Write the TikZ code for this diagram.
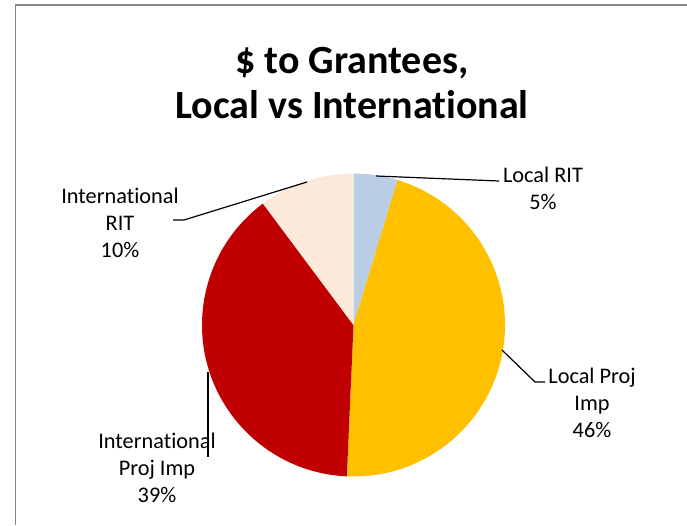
\documentclass[tikz,border=0pt]{standalone}
\usepackage{fontspec}
\setmainfont{Carlito}[Ligatures=NoCommon]
\usetikzlibrary{calc}
\definecolor{ritblue}{RGB}{185,205,229}
\definecolor{projgold}{RGB}{255,192,0}
\definecolor{projred}{RGB}{192,0,0}
\definecolor{ritpeach}{RGB}{253,233,217}
\definecolor{framegray}{RGB}{134,134,134}
\tikzset{
  lbl/.style={align=center, font=\fontsize{22.3}{27}\selectfont, inner sep=0pt},
  ttl/.style={anchor=base, font=\fontsize{40}{45}\selectfont\bfseries, inner sep=0pt},
  leader/.style={black, line width=1.2pt}
}
\begin{document}
\begin{tikzpicture}[x=1pt, y=1pt]
  \useasboundingbox (0,0) rectangle (687,525);
  \draw[framegray, line width=1.6pt] (15.5,0) -- (15.5,520) -- (687,520);
  \node[ttl] (title1) at (352,451) {\$ to Grantees,};
  \node[ttl] (title2) at (352,406) {Local vs International};
  \coordinate (c) at (353.5,200);
  \fill[ritblue] (c) -- ++(90:151.5) arc[start angle=90, end angle=73.08, radius=151.5] -- cycle;
  \fill[projgold] (c) -- ++(73.08:151.5) arc[start angle=73.08, end angle=-92.52, radius=151.5] -- cycle;
  \fill[projred] (c) -- ++(-92.52:151.5) arc[start angle=-92.52, end angle=-233.28, radius=151.5] -- cycle;
  \fill[ritpeach] (c) -- ++(126.72:151.5) arc[start angle=126.72, end angle=90, radius=151.5] -- cycle;
  \node[lbl] (lrit) at (543,337) {Local RIT\\5\%};
  \node[lbl] (lproj) at (592,122) {Local Proj\\Imp\\46\%};
  \node[lbl] (iproj) at (157,57) {International\\Proj Imp\\39\%};
  \node[lbl] (irit) at (120,302) {International\\RIT\\10\%};
  \coordinate (lrit-a) at (376,349);
  \coordinate (lrit-b) at (499,344);
  \coordinate (lproj-a) at (502,175);
  \coordinate (lproj-k) at (535,143);
  \coordinate (lproj-b) at (545,143);
  \coordinate (iproj-a) at (208,153);
  \coordinate (iproj-b) at (208,68);
  \coordinate (irit-a) at (307,343);
  \coordinate (irit-k) at (184,305);
  \coordinate (irit-b) at (173,305);
  \draw[leader] (lrit-a) -- (lrit-b);
  \draw[leader] (lproj-a) -- (lproj-k) -- (lproj-b);
  \draw[leader] (iproj-a) -- (iproj-b);
  \draw[leader] (irit-a) -- (irit-k) -- (irit-b);
\end{tikzpicture}
\end{document}
